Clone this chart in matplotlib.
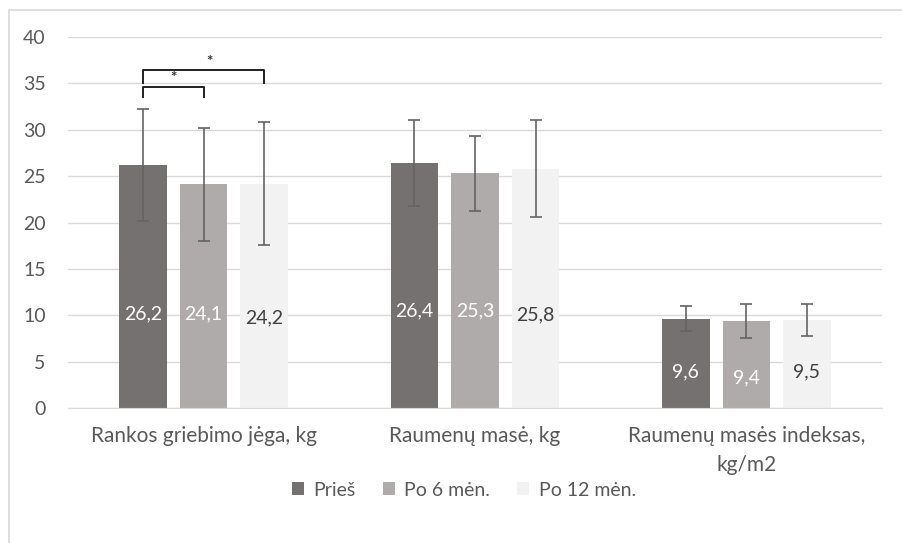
import matplotlib.pyplot as plt
from matplotlib.patches import Rectangle
import numpy as np

plt.rcParams['font.family'] = ['Lato', 'DejaVu Sans']

# Datos
categorias = ['Rankos griebimo jėga, kg', 'Raumenų masė, kg',
              'Raumenų masės indeksas,\nkg/m2']
series = ['Prieš', 'Po 6 mėn.', 'Po 12 mėn.']
valores = [
    [26.2, 26.4, 9.6],   # Prieš
    [24.1, 25.3, 9.4],   # Po 6 mėn.
    [24.2, 25.8, 9.5],   # Po 12 mėn.
]
errores = [
    [6.0, 4.65, 1.35],
    [6.05, 4.05, 1.85],
    [6.65, 5.25, 1.75],
]
etiquetas_y = [
    [10.2, 10.5, 3.9],
    [10.2, 10.5, 3.2],
    [9.7, 10.0, 3.9],
]

colores = ['#767171', '#AFABAB', '#F2F2F2']
color_texto = ['white', 'white', '#404040']
gris = '#595959'

fig = plt.figure(figsize=(9.03, 5.43), dpi=100)
ax = fig.add_axes([68 / 903, 1 - 408 / 543, 814 / 903, 371 / 543])

x = np.arange(len(categorias))
ancho = 0.175
paso = 0.223

for i, serie in enumerate(series):
    pos = x + (i - 1) * paso
    ax.bar(pos, valores[i], ancho, color=colores[i], label=serie, zorder=2)
    ax.errorbar(pos, valores[i], yerr=errores[i], fmt='none', ecolor='#646464',
                elinewidth=1.2, capsize=4.5, capthick=1.2, zorder=3)
    for px, v, ly in zip(pos, valores[i], etiquetas_y[i]):
        ax.text(px, ly, f'{v:.1f}'.replace('.', ','), ha='center', va='center',
                fontsize=14, color=color_texto[i], zorder=4)

# Corchetes de significancia
def corchete(x0, x1, y, h, ax, dx=0):
    ax.plot([x0, x0, x1, x1], [y - h, y, y, y - h], color='#202020', lw=1.4,
            zorder=4, clip_on=False)
    ax.text((x0 + x1) / 2 + dx, y + 0.95, '*', ha='center', va='center',
            fontsize=11, fontweight='bold', color='#303030')

corchete(x[0] - paso, x[0], 34.6, 1.1, ax)
corchete(x[0] - paso, x[0] + paso, 36.4, 1.4, ax, dx=0.02)

ax.set_xlim(-0.5, 2.5)
ax.set_ylim(0, 40)
ax.set_yticks(range(0, 41, 5))
ax.yaxis.grid(True, color='#D9D9D9', lw=1, zorder=0)
ax.set_axisbelow(True)
for s in ['top', 'right', 'left']:
    ax.spines[s].set_visible(False)
ax.spines['bottom'].set_color('#D9D9D9')
ax.tick_params(axis='y', length=0, pad=16, labelsize=14, labelcolor=gris)
ax.tick_params(axis='x', length=0, pad=13, labelsize=15, labelcolor=gris)
ax.set_xticks(x)
ax.set_xticklabels(categorias, linespacing=1.55)

leg = fig.legend(loc='center', bbox_to_anchor=(464 / 903, 1 - 490 / 543), ncol=3,
                 frameon=False, fontsize=14, handlelength=0.6, handleheight=0.6,
                 columnspacing=1.4, handletextpad=0.5)
for t in leg.get_texts():
    t.set_color(gris)

# Marco del grafico
fig.patches.append(Rectangle((9 / 903, -0.1), 1.2, 1 - 10 / 543 + 0.1,
                             transform=fig.transFigure, fill=False,
                             edgecolor='#D9D9D9', lw=1.2))

fig.savefig('out.png', dpi=100)
